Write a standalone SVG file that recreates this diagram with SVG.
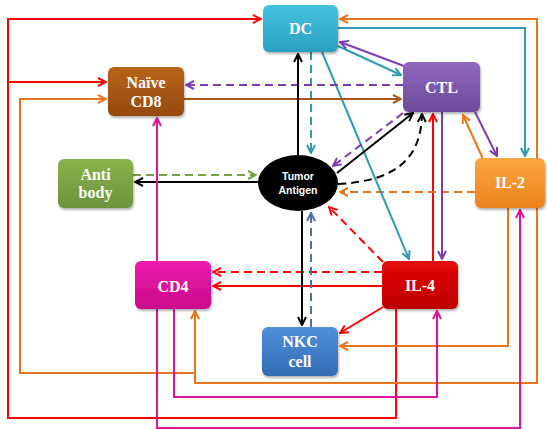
<svg xmlns="http://www.w3.org/2000/svg" width="547" height="429" viewBox="0 0 547 429">
<defs>
<style>
.c{fill:none;stroke-width:2}
.d{stroke-dasharray:8,5}
.lbl{font-family:"Liberation Serif","Times New Roman",serif;font-weight:bold;font-size:16px;fill:#fff;text-anchor:middle}
.ta{font-family:"Liberation Sans",Arial,sans-serif;font-weight:bold;font-size:10.5px;fill:#fff;text-anchor:middle}
.red{stroke:#ff0000}.org{stroke:#e8761c}.teal{stroke:#2f9cb1}.pur{stroke:#7b3db3}.brn{stroke:#a9561d}.blk{stroke:#000}.grn{stroke:#77a043}.blu{stroke:#4a72a6}.mag{stroke:#de139e}
</style>
<filter id="sh" x="-10%" y="-10%" width="130%" height="140%"><feDropShadow dx="1" dy="2" stdDeviation="1.2" flood-color="#000" flood-opacity="0.3"/></filter>
<linearGradient id="gDC" x1="0" y1="0" x2="0" y2="1"><stop offset="0" stop-color="#45c3df"/><stop offset="1" stop-color="#2a9fc0"/></linearGradient>
<linearGradient id="gN" x1="0" y1="0" x2="0" y2="1"><stop offset="0" stop-color="#b9621a"/><stop offset="1" stop-color="#954a0f"/></linearGradient>
<linearGradient id="gA" x1="0" y1="0" x2="0" y2="1"><stop offset="0" stop-color="#8ab350"/><stop offset="1" stop-color="#6c923a"/></linearGradient>
<linearGradient id="gC" x1="0" y1="0" x2="0" y2="1"><stop offset="0" stop-color="#9068bd"/><stop offset="1" stop-color="#6d4a9b"/></linearGradient>
<linearGradient id="gI2" x1="0" y1="0" x2="0" y2="1"><stop offset="0" stop-color="#fba640"/><stop offset="1" stop-color="#ec8220"/></linearGradient>
<linearGradient id="gC4" x1="0" y1="0" x2="0" y2="1"><stop offset="0" stop-color="#ec1cad"/><stop offset="1" stop-color="#c90a8a"/></linearGradient>
<linearGradient id="gI4" x1="0" y1="0" x2="0" y2="1"><stop offset="0" stop-color="#e40808"/><stop offset="1" stop-color="#bd0000"/></linearGradient>
<linearGradient id="gK" x1="0" y1="0" x2="0" y2="1"><stop offset="0" stop-color="#4f8fda"/><stop offset="1" stop-color="#336db5"/></linearGradient>
<marker id="aRed" viewBox="0 0 10 10" refX="9" refY="5" markerWidth="10" markerHeight="10" markerUnits="userSpaceOnUse" orient="auto"><path d="M1,1 L9,5 L1,9" fill="none" stroke="#ff0000" stroke-width="2"/></marker>
<marker id="aOrg" viewBox="0 0 10 10" refX="9" refY="5" markerWidth="10" markerHeight="10" markerUnits="userSpaceOnUse" orient="auto"><path d="M1,1 L9,5 L1,9" fill="none" stroke="#e8761c" stroke-width="2"/></marker>
<marker id="aTeal" viewBox="0 0 10 10" refX="9" refY="5" markerWidth="10" markerHeight="10" markerUnits="userSpaceOnUse" orient="auto"><path d="M1,1 L9,5 L1,9" fill="none" stroke="#2f9cb1" stroke-width="2"/></marker>
<marker id="aPur" viewBox="0 0 10 10" refX="9" refY="5" markerWidth="10" markerHeight="10" markerUnits="userSpaceOnUse" orient="auto"><path d="M1,1 L9,5 L1,9" fill="none" stroke="#7b3db3" stroke-width="2"/></marker>
<marker id="aBrn" viewBox="0 0 10 10" refX="9" refY="5" markerWidth="10" markerHeight="10" markerUnits="userSpaceOnUse" orient="auto"><path d="M1,1 L9,5 L1,9" fill="none" stroke="#a9561d" stroke-width="2"/></marker>
<marker id="aBlk" viewBox="0 0 10 10" refX="9" refY="5" markerWidth="10" markerHeight="10" markerUnits="userSpaceOnUse" orient="auto"><path d="M1,1 L9,5 L1,9" fill="none" stroke="#000" stroke-width="2"/></marker>
<marker id="aGrn" viewBox="0 0 10 10" refX="9" refY="5" markerWidth="10" markerHeight="10" markerUnits="userSpaceOnUse" orient="auto"><path d="M1,1 L9,5 L1,9" fill="none" stroke="#77a043" stroke-width="2"/></marker>
<marker id="aBlu" viewBox="0 0 10 10" refX="9" refY="5" markerWidth="10" markerHeight="10" markerUnits="userSpaceOnUse" orient="auto"><path d="M1,1 L9,5 L1,9" fill="none" stroke="#4a72a6" stroke-width="2"/></marker>
<marker id="aMag" viewBox="0 0 10 10" refX="9" refY="5" markerWidth="10" markerHeight="10" markerUnits="userSpaceOnUse" orient="auto"><path d="M1,1 L9,5 L1,9" fill="none" stroke="#de139e" stroke-width="2"/></marker>
</defs>
<rect width="547" height="429" fill="#fff"/>
<g id="connectors">
<path class="c red" d="M396,309 V418 H8 V19 H261" marker-end="url(#aRed)"/>
<path class="c red" d="M8,82 H106" marker-end="url(#aRed)"/>
<path class="c red" d="M433,261 V114" marker-end="url(#aRed)"/>
<path class="c red d" d="M383,262 L329,207" marker-end="url(#aRed)"/>
<path class="c red d" d="M382,272 H213" marker-end="url(#aRed)"/>
<path class="c red" d="M382,286 H213" marker-end="url(#aRed)"/>
<path class="c red" d="M383,307 L340,333" marker-end="url(#aRed)"/>
<path class="c org" d="M537,158 V19 H340" marker-end="url(#aOrg)"/>
<path class="c org" d="M537,208 V383 H195 V311" marker-end="url(#aOrg)"/>
<path class="c org" d="M195,373 H20 V99 H106" marker-end="url(#aOrg)"/>
<path class="c org" d="M508,208 V346 H340" marker-end="url(#aOrg)"/>
<path class="c org" d="M483,159 L463,115" marker-end="url(#aOrg)"/>
<path class="c org d" d="M475,192 H340" marker-end="url(#aOrg)"/>
<path class="c teal" d="M338,28 H525 V156" marker-end="url(#aTeal)"/>
<path class="c teal" d="M338,46 L401,75" marker-end="url(#aTeal)"/>
<path class="c teal" d="M322,52 L409,259" marker-end="url(#aTeal)"/>
<path class="c teal d" d="M311,52 V153" marker-end="url(#aTeal)"/>
<path class="c pur" d="M404,66 L340,42" marker-end="url(#aPur)"/>
<path class="c pur d" d="M403,85 H186" marker-end="url(#aPur)"/>
<path class="c pur d" d="M403,113 L333,166" marker-end="url(#aPur)"/>
<path class="c pur" d="M475,112 L497,156" marker-end="url(#aPur)"/>
<path class="c pur" d="M442,112 V259" marker-end="url(#aPur)"/>
<path class="c brn" d="M184,99 H401" marker-end="url(#aBrn)"/>
<path class="c blk" d="M298,155 V54" marker-end="url(#aBlk)"/>
<path class="c blk" d="M337,173 L413,113" marker-end="url(#aBlk)"/>
<path class="c blk d" d="M338,184 C392,181 421,162 422,114" marker-end="url(#aBlk)"/>
<path class="c blk" d="M259,182 H135" marker-end="url(#aBlk)"/>
<path class="c blk" d="M302,211 V325" marker-end="url(#aBlk)"/>
<path class="c grn d" d="M133,175 H256" marker-end="url(#aGrn)"/>
<path class="c blu d" d="M311,327 V213" marker-end="url(#aBlu)"/>
<path class="c mag" d="M157,261 V118" marker-end="url(#aMag)"/>
<path class="c mag" d="M174,309 V397 H437 V311" marker-end="url(#aMag)"/>
<path class="c mag" d="M157,309 V428 H520 V210" marker-end="url(#aMag)"/>
</g>
<g id="DC"><rect x="263" y="5" width="75" height="47" rx="6" fill="url(#gDC)" filter="url(#sh)"/><text class="lbl" x="300.5" y="34">DC</text></g>
<g id="NaiveCD8"><rect x="108" y="67" width="76" height="49" rx="6" fill="url(#gN)" filter="url(#sh)"/><text class="lbl" x="146" y="88">Naïve</text><text class="lbl" x="146" y="107">CD8</text></g>
<g id="Antibody"><rect x="58" y="159" width="75" height="49" rx="6" fill="url(#gA)" filter="url(#sh)"/><text class="lbl" x="95.5" y="180">Anti</text><text class="lbl" x="95.5" y="198">body</text></g>
<g id="CTL"><rect x="403" y="62" width="77" height="50" rx="6" fill="url(#gC)" filter="url(#sh)"/><text class="lbl" x="441.5" y="93">CTL</text></g>
<g id="IL2"><rect x="475" y="158" width="70" height="50" rx="6" fill="url(#gI2)" filter="url(#sh)"/><text class="lbl" x="510" y="188">IL-2</text></g>
<g id="TumorAntigen"><ellipse cx="298" cy="183" rx="40" ry="28" fill="#000"/><text class="ta" x="298" y="180">Tumor</text><text class="ta" x="298" y="194">Antigen</text></g>
<g id="CD4"><rect x="135" y="261" width="76" height="48" rx="6" fill="url(#gC4)" filter="url(#sh)"/><text class="lbl" x="173" y="292">CD4</text></g>
<g id="IL4"><rect x="382" y="261" width="76" height="48" rx="6" fill="url(#gI4)" filter="url(#sh)"/><text class="lbl" x="420" y="291">IL-4</text></g>
<g id="NKC"><rect x="262" y="327" width="76" height="49" rx="6" fill="url(#gK)" filter="url(#sh)"/><text class="lbl" x="300" y="347">NKC</text><text class="lbl" x="300" y="367">cell</text></g>
</svg>
